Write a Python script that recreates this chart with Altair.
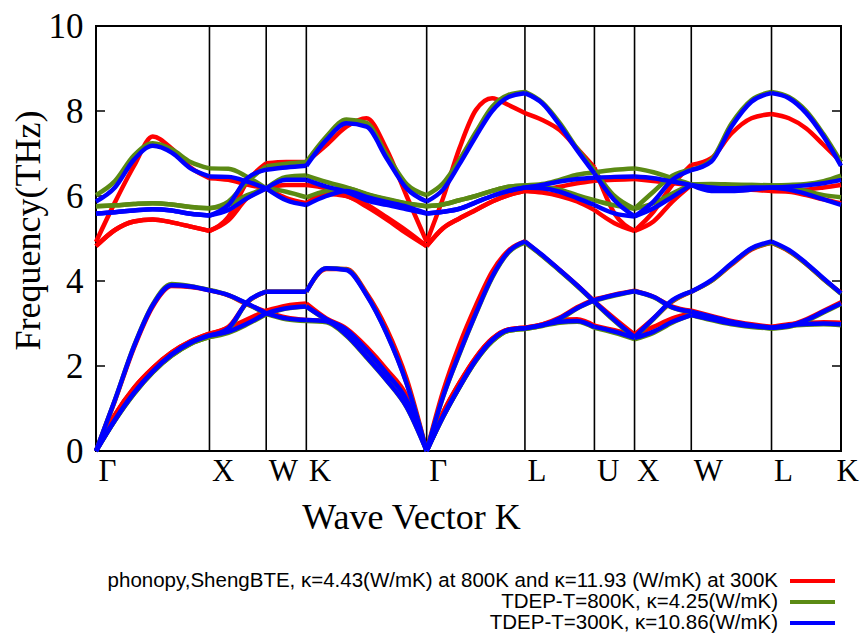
import altair as alt
import pandas as pd

# ---------------- data ----------------
K_PATH = [0.0, 0.1667, 0.3333, 0.5, 0.6667, 0.8333, 1.0,
          1.1667, 1.3333, 1.5,
          1.6768, 1.8536,
          2.0303, 2.2071, 2.3839, 2.5607, 2.7374, 2.9142,
          3.0585, 3.2028, 3.3472, 3.4915, 3.6359, 3.7802,
          3.9333, 4.0864, 4.2395, 4.3926,
          4.5694, 4.7462,
          4.9129, 5.0795, 5.2462,
          5.4230, 5.5997, 5.7765, 5.9533,
          6.1064, 6.2595, 6.4126, 6.5657]
HS_POS = [0.0, 1.0, 1.5, 1.8536, 2.9142, 3.7802, 4.3926, 4.7462, 5.2462, 5.9533, 6.5657]
HS_LABELS = ["Γ", "X", "W", "K", "Γ", "L", "U", "X", "W", "L", "K"]
HS_INDEX = [0, 6, 9, 11, 17, 23, 27, 29, 32, 36, 40]
Y_TICKS = [0, 2, 4, 6, 8, 10]

SERIES = ["phonopy,ShengBTE, κ=4.43(W/mK) at 800K and κ=11.93 (W/mK) at 300K",
          "TDEP-T=800K, κ=4.25(W/mK)",
          "TDEP-T=300K, κ=10.86(W/mK)"]
COLORS = ["#ff0000", "#5b8a14", "#0000ff"]

# phonopy / ShengBTE (red)
RED_B0 = [0, 0.85, 1.48, 1.95, 2.32, 2.58, 2.76, 2.9, 3.1, 3.3, 3.42, 3.47,
          3.12, 2.88, 2.45, 1.92, 1.3, 0, 0.9, 1.6, 2.2, 2.64, 2.86, 2.9,
          2.98, 3.07, 3.1, 2.95, 2.84, 2.72, 2.92, 3.12, 3.24,
          3.12, 3.02, 2.95, 2.92, 2.98, 3.01, 3.03, 3.02]
RED_B1 = [0, 0.85, 1.48, 1.95, 2.32, 2.58, 2.76, 2.92, 3.5, 3.75, 3.75, 3.75,
          4.28, 4.28, 3.72, 2.88, 1.7, 0, 0.9, 1.6, 2.2, 2.64, 2.86, 2.9,
          2.98, 3.14, 3.38, 3.57, 3.68, 3.77, 3.63, 3.4, 3.3,
          3.18, 3.06, 2.98, 2.92, 2.96, 3.1, 3.3, 3.5]
RED_B2 = [0, 1.18, 2.42, 3.4, 3.88, 3.86, 3.78, 3.66, 3.45, 3.28, 3.14, 3.08,
          3.05, 2.75, 2.28, 1.75, 1.12, 0, 1.4, 2.5, 3.42, 4.22, 4.72, 4.93,
          4.6, 4.26, 3.9, 3.52, 3.12, 2.74, 3.12, 3.52, 3.75,
          4.0, 4.38, 4.74, 4.9, 4.7, 4.4, 4.04, 3.72]
RED_B3 = [4.82, 5.2, 5.4, 5.45, 5.38, 5.28, 5.18, 5.43, 5.95, 6.18, 5.95, 5.83,
          6.05, 6.0, 5.75, 5.45, 5.12, 4.82, 5.24, 5.47, 5.67, 5.87, 6.02, 6.12,
          6.08, 6.0, 5.87, 5.67, 5.36, 5.18, 5.4, 5.87, 6.26,
          6.15, 6.13, 6.15, 6.12, 6.1, 6.02, 5.92, 5.83]
RED_B4 = [4.82, 5.2, 5.4, 5.45, 5.38, 5.28, 5.18, 5.51, 6.34, 6.77, 6.8, 6.8,
          7.2, 7.63, 7.83, 7.1, 6.0, 4.92, 5.95, 7.12, 8.02, 8.3, 8.14, 7.95,
          7.79, 7.55, 7.12, 6.67, 5.59, 5.18, 5.63, 6.26, 6.73,
          6.89, 7.47, 7.83, 7.93, 7.83, 7.59, 7.2, 6.8]
RED_B5 = [4.92, 5.85, 6.7, 7.4, 7.12, 6.67, 6.42, 6.38, 6.27, 6.18, 6.26, 6.26,
          6.18, 6.0, 5.8, 5.5, 5.18, 4.82, 5.24, 5.47, 5.67, 5.87, 6.02, 6.12,
          6.15, 6.22, 6.3, 6.36, 6.38, 6.4, 6.35, 6.3, 6.26,
          6.2, 6.17, 6.15, 6.12, 6.13, 6.15, 6.2, 6.26]

# TDEP 800K (green)
GRN_B0 = [0, 0.72, 1.34, 1.85, 2.24, 2.52, 2.68, 2.78, 2.98, 3.22, 3.35, 3.4,
          3.08, 2.83, 2.36, 1.82, 1.19, 0, 0.8, 1.5, 2.12, 2.58, 2.83, 2.87,
          2.94, 3.02, 3.04, 2.9, 2.78, 2.63, 2.78, 3.02, 3.2,
          3.08, 2.98, 2.92, 2.88, 2.94, 2.97, 2.98, 2.96]
GRN_B1 = [0, 0.72, 1.34, 1.85, 2.24, 2.52, 2.68, 2.86, 3.5, 3.75, 3.75, 3.75,
          4.3, 4.27, 3.68, 2.78, 1.6, 0, 0.8, 1.5, 2.12, 2.58, 2.83, 2.87,
          2.95, 3.1, 3.35, 3.54, 3.66, 3.76, 3.62, 3.37, 3.27,
          3.14, 3.02, 2.94, 2.88, 2.92, 3.06, 3.26, 3.46]
GRN_B2 = [0, 1.2, 2.46, 3.45, 3.93, 3.88, 3.79, 3.67, 3.46, 3.22, 3.1, 3.06,
          3.03, 2.71, 2.2, 1.66, 1.03, 0, 1.27, 2.28, 3.22, 4.08, 4.67, 4.9,
          4.59, 4.24, 3.88, 3.5, 3.06, 2.65, 3.1, 3.53, 3.75,
          4.0, 4.4, 4.76, 4.9, 4.71, 4.4, 4.04, 3.7]
GRN_B3 = [5.76, 5.78, 5.81, 5.83, 5.8, 5.74, 5.71, 5.79, 6.02, 6.18, 6.1, 5.97,
          6.12, 6.18, 6.04, 5.92, 5.82, 5.76, 5.8, 5.9, 6.0, 6.12, 6.22, 6.25,
          6.22, 6.15, 6.02, 5.9, 5.78, 5.7, 5.83, 6.06, 6.27,
          6.25, 6.25, 6.26, 6.25, 6.22, 6.12, 6.02, 5.97]
GRN_B4 = [5.76, 5.78, 5.81, 5.83, 5.8, 5.74, 5.71, 5.87, 6.34, 6.7, 6.76, 6.8,
          7.4, 7.8, 7.72, 6.98, 6.28, 6.02, 6.3, 6.85, 7.5, 8.1, 8.38, 8.45,
          8.2, 7.72, 7.12, 6.6, 6.0, 5.7, 6.1, 6.48, 6.62,
          6.85, 7.7, 8.26, 8.45, 8.33, 8.0, 7.45, 6.8]
GRN_B5 = [6.02, 6.35, 6.95, 7.24, 7.1, 6.8, 6.65, 6.64, 6.45, 6.18, 6.45, 6.48,
          6.33, 6.2, 6.05, 5.93, 5.83, 5.76, 5.8, 5.9, 6.0, 6.12, 6.22, 6.25,
          6.28, 6.38, 6.5, 6.56, 6.62, 6.65, 6.56, 6.42, 6.27,
          6.28, 6.27, 6.26, 6.25, 6.26, 6.28, 6.35, 6.48]

# TDEP 300K (blue)
BLU_B0 = [0, 0.73, 1.36, 1.87, 2.27, 2.55, 2.72, 2.81, 3.0, 3.24, 3.36, 3.4,
          3.1, 2.85, 2.38, 1.83, 1.2, 0, 0.81, 1.51, 2.14, 2.61, 2.85, 2.89,
          2.96, 3.04, 3.06, 2.92, 2.81, 2.66, 2.81, 3.04, 3.2,
          3.1, 3.0, 2.94, 2.9, 2.96, 2.99, 3.0, 2.98]
BLU_B1 = [0, 0.73, 1.36, 1.87, 2.27, 2.55, 2.72, 2.89, 3.51, 3.75, 3.75, 3.75,
          4.3, 4.26, 3.67, 2.77, 1.59, 0, 0.81, 1.51, 2.14, 2.61, 2.85, 2.89,
          2.96, 3.12, 3.36, 3.55, 3.67, 3.76, 3.63, 3.38, 3.28,
          3.16, 3.04, 2.96, 2.9, 2.94, 3.08, 3.28, 3.47]
BLU_B2 = [0, 1.2, 2.45, 3.43, 3.9, 3.87, 3.78, 3.67, 3.47, 3.24, 3.12, 3.08,
          3.05, 2.73, 2.22, 1.67, 1.04, 0, 1.28, 2.3, 3.24, 4.1, 4.69, 4.93,
          4.61, 4.26, 3.9, 3.51, 3.08, 2.68, 3.12, 3.55, 3.75,
          4.02, 4.41, 4.77, 4.93, 4.73, 4.42, 4.06, 3.71]
BLU_B3 = [5.59, 5.62, 5.66, 5.69, 5.66, 5.58, 5.54, 5.67, 5.95, 6.18, 5.9, 5.79,
          6.0, 6.12, 5.98, 5.86, 5.75, 5.59, 5.63, 5.7, 5.85, 6.0, 6.12, 6.2,
          6.18, 6.1, 5.95, 5.79, 5.59, 5.52, 5.71, 5.98, 6.26,
          6.12, 6.12, 6.15, 6.2, 6.15, 6.05, 5.92, 5.79]
BLU_B4 = [5.59, 5.62, 5.66, 5.69, 5.66, 5.58, 5.54, 5.79, 6.42, 6.62, 6.67, 6.71,
          7.32, 7.71, 7.63, 6.89, 6.18, 5.87, 6.15, 6.75, 7.4, 8.0, 8.33, 8.42,
          8.18, 7.67, 7.08, 6.53, 5.9, 5.52, 5.87, 6.38, 6.61,
          6.81, 7.63, 8.22, 8.42, 8.3, 7.95, 7.4, 6.71]
BLU_B5 = [5.87, 6.2, 6.85, 7.18, 7.02, 6.65, 6.46, 6.45, 6.34, 6.18, 6.38, 6.38,
          6.22, 6.1, 5.9, 5.79, 5.69, 5.59, 5.63, 5.7, 5.85, 6.0, 6.12, 6.2,
          6.26, 6.34, 6.4, 6.43, 6.45, 6.46, 6.42, 6.34, 6.26,
          6.2, 6.18, 6.2, 6.2, 6.22, 6.25, 6.3, 6.38]

BANDS = {
    SERIES[0]: [RED_B0, RED_B1, RED_B2, RED_B3, RED_B4, RED_B5],
    SERIES[1]: [GRN_B0, GRN_B1, GRN_B2, GRN_B3, GRN_B4, GRN_B5],
    SERIES[2]: [BLU_B0, BLU_B1, BLU_B2, BLU_B3, BLU_B4, BLU_B5],
}

rows = []
for si, name in enumerate(SERIES):
    for b, arr in enumerate(BANDS[name]):
        for s in range(len(HS_INDEX) - 1):
            for i in range(HS_INDEX[s], HS_INDEX[s + 1] + 1):
                rows.append({"k": K_PATH[i], "f": arr[i], "series": name,
                             "line": f"{si}-{b}-{s}", "order": i})
bands = pd.DataFrame(rows)

# ---------------- encodings ----------------
label_expr = ""
for i in range(len(HS_POS) - 1):
    mid = (HS_POS[i] + HS_POS[i + 1]) / 2
    label_expr += f"datum.value < {mid:.4f} ? '{HS_LABELS[i]}' : "
label_expr += f"'{HS_LABELS[-1]}'"
last_mid = (HS_POS[-2] + HS_POS[-1]) / 2

SERIF = "Liberation Serif"

X = alt.X("k:Q",
          scale=alt.Scale(domain=[0, HS_POS[-1]], nice=False, zero=False),
          axis=alt.Axis(values=HS_POS, labelExpr=label_expr, title="Wave Vector K",
                        grid=False, ticks=False, domain=False,
                        labelFont=SERIF, labelFontSize=31, labelColor="black",
                        labelAlign="left",
                        labelOffset={"condition": {"test": f"datum.value > {last_mid:.4f}",
                                                   "value": -5}, "value": 2},
                        labelPadding=5,
                        labelFlush=False, labelOverlap=False, labelBound=False,
                        titleFont=SERIF, titleFontSize=36, titleFontWeight="normal",
                        titleColor="black", titleX=315, titleY=77,
                        titleBaseline="alphabetic", titleAlign="center"))
Y = alt.Y("f:Q",
          scale=alt.Scale(domain=[0, 10], nice=False, zero=False),
          axis=alt.Axis(values=Y_TICKS, format="d", title="Frequency(THz)",
                        grid=False, ticks=False, domain=False,
                        labelFont=SERIF, labelFontSize=35, labelColor="black",
                        labelPadding=13, labelFlush=False, labelOverlap=False,
                        titleFont=SERIF, titleFontSize=36, titleFontWeight="normal",
                        titleColor="black", titleX=-57, titleY=204, titleAngle=270,
                        titleBaseline="alphabetic", titleAlign="center"))

COLOR = alt.Color("series:N", scale=alt.Scale(domain=SERIES, range=COLORS), legend=None)

hs_rules = alt.Chart(pd.DataFrame({"k": HS_POS})).mark_rule(
    color="black", strokeWidth=1.6).encode(x=X)

tick_df = pd.DataFrame({"f": Y_TICKS})
ticks_left = alt.Chart(tick_df).mark_rule(color="black", strokeWidth=1.5).encode(
    y=Y, x=alt.value(0), x2=alt.value(9))
ticks_right = alt.Chart(tick_df).mark_rule(color="black", strokeWidth=1.5).encode(
    y=Y, x=alt.value(736), x2=alt.value(745))


def band_layer(name):
    return alt.Chart(bands).transform_filter(
        alt.datum.series == name
    ).mark_line(interpolate="monotone", strokeWidth=4.5, strokeJoin="round").encode(
        x=X, y=Y, color=COLOR, detail="line:N", order="order:Q")


# legend (label right-aligned, line sample to its right), one row per series
legend_df = pd.DataFrame({"series": SERIES})
LEGEND_ROW_Y = [555, 576, 597]
legend_layers = []
for name, ly in zip(SERIES, LEGEND_ROW_Y):
    base = alt.Chart(legend_df).transform_filter(alt.datum.series == name)
    legend_layers.append(
        base.mark_text(align="right", baseline="middle", font="Liberation Sans",
                       fontSize=20.5, color="black").encode(
            text="series:N", x=alt.value(682), y=alt.value(ly)))
    legend_layers.append(
        base.mark_rule(strokeWidth=4).encode(
            color=COLOR, x=alt.value(694), x2=alt.value(739), y=alt.value(ly)))

chart = alt.layer(
    hs_rules, ticks_left, ticks_right,
    band_layer(SERIES[0]), band_layer(SERIES[1]), band_layer(SERIES[2]),
    *legend_layers
).properties(
    width=745, height=425,
    padding={"left": 88, "top": 18, "right": 19, "bottom": 184},
    autosize=alt.AutoSizeParams(type="none"),
    background="white",
).configure_view(stroke="black", strokeWidth=2)

chart.save("out.html", embed_options={"renderer": "svg", "actions": False})
